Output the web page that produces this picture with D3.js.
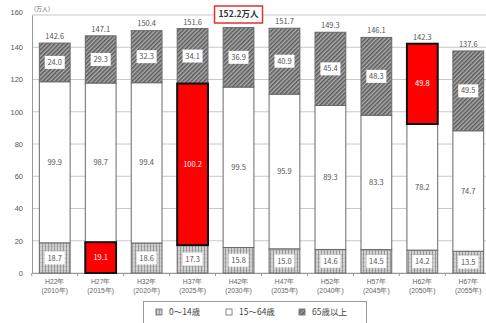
<!DOCTYPE html>
<html><head><meta charset="utf-8">
<script src="https://cdn.jsdelivr.net/npm/d3@7"></script>
<style>
body{margin:0;background:#fff;}
svg{display:block;font-family:"Noto Sans CJK JP","Noto Sans",sans-serif;}
</style></head><body>
<div id="chart"></div>
<script>
const eraLabels = ["H22年","H27年","H32年","H37年","H42年","H47年","H52年","H57年","H62年","H67年"];
const yearLabels = ["(2010年)","(2015年)","(2020年)","(2025年)","(2030年)","(2035年)","(2040年)","(2045年)","(2050年)","(2055年)"];
const young = [18.7, 19.1, 18.6, 17.3, 15.8, 15.0, 14.6, 14.5, 14.2, 13.5];
const working = [99.9, 98.7, 99.4, 100.2, 99.5, 95.9, 89.3, 83.3, 78.2, 74.7];
const elder = [24.0, 29.3, 32.3, 34.1, 36.9, 40.9, 45.4, 48.3, 49.8, 49.5];
const totals = [142.6, 147.1, 150.4, 151.6, 152.2, 151.7, 149.3, 146.1, 142.3, 137.6];
const seriesNames = ["0～14歳","15～64歳","65歳以上"];
const highlights = [[1,0],[3,1],[8,2]]; // [bar index, series index]
const peakLabel = "152.2万人";
const peakIndex = 4;
const yTicks = [0,20,40,60,80,100,120,140,160];
const unitLabel = "(万人)";

const W = 486, H = 323;
const svg = d3.select("#chart").append("svg").attr("width", W).attr("height", H);
const defs = svg.append("defs");

// patterns
const pElder = defs.append("pattern").attr("id","pElder").attr("patternUnits","userSpaceOnUse")
  .attr("width",3).attr("height",3).attr("patternTransform","rotate(45)");
pElder.append("rect").attr("width",3).attr("height",3).attr("fill","#ababab");
pElder.append("rect").attr("width",1.5).attr("height",3).attr("fill","#5a5a5a");

const pYoung = defs.append("pattern").attr("id","pYoung").attr("patternUnits","userSpaceOnUse")
  .attr("width",3).attr("height",4);
pYoung.append("rect").attr("width",3).attr("height",4).attr("fill","#d2d2d2");
pYoung.append("rect").attr("width",1).attr("height",4).attr("fill","#9a9a9a");
pYoung.append("rect").attr("x",1).attr("y",2).attr("width",2).attr("height",1).attr("fill","#bcbcbc");

const fills = ["url(#pYoung)", "#ffffff", "url(#pElder)"];

const x = d3.scaleBand().domain(d3.range(eraLabels.length)).range([32, 491]).paddingInner(0.33).paddingOuter(0.16);
const y = d3.scaleLinear().domain([0,160]).range([273, 15]);

// gridlines
svg.append("g").selectAll("line").data(yTicks).join("line")
  .attr("x1",32).attr("x2",W).attr("y1",d=>y(d)).attr("y2",d=>y(d))
  .attr("stroke","#c8c8c8").attr("stroke-width",1);

// y axis
const yAxis = d3.axisLeft(y).tickValues(yTicks).tickSize(0).tickPadding(9);
const gy = svg.append("g").attr("transform","translate(32,0)").call(yAxis);
gy.select(".domain").attr("stroke","#999");
gy.selectAll("text").attr("fill","#555").attr("font-size",7.5);
gy.selectAll(".tick").filter(d=>d===160).select("text").attr("dy","-0.1em");

svg.append("text").attr("x",34).attr("y",11).attr("font-size",6).attr("fill","#666").text(unitLabel);

// x axis
const xAxis = d3.axisBottom(x).tickFormat(i=>eraLabels[i]).tickSize(0).tickPadding(6);
const gx = svg.append("g").attr("transform","translate(0,273)").call(xAxis);
gx.select(".domain").attr("stroke","#999");
gx.selectAll(".tick text").attr("fill","#666").attr("font-size",6.8)
  .each(function(i){
    const t = d3.select(this);
    t.text(null);
    t.append("tspan").attr("x",0).attr("dy","0.71em").text(eraLabels[i]);
    t.append("tspan").attr("x",0).attr("dy","1.35em").text(yearLabels[i]);
  });
// small ticks between bands
svg.append("g").selectAll("line").data(d3.range(eraLabels.length+1)).join("line")
  .attr("x1",i=>x(0) - x.step()*x.paddingInner()/2 + i*x.step())
  .attr("x2",i=>x(0) - x.step()*x.paddingInner()/2 + i*x.step())
  .attr("y1",273).attr("y2",276).attr("stroke","#999");

// stack
const rows = eraLabels.map((e,i)=>({i, a:young[i], b:working[i], c:elder[i]}));
const stack = d3.stack().keys(["a","b","c"])(rows);
const isHi = (i,s)=>highlights.some(h=>h[0]===i && h[1]===s);

const gBars = svg.append("g");
stack.forEach((layer,s)=>{
  gBars.selectAll(null).data(layer).join("rect")
    .attr("x",(d,k)=>x(k)).attr("width",x.bandwidth())
    .attr("y",d=>y(d[1])).attr("height",d=>y(d[0])-y(d[1]))
    .attr("fill",(d,k)=>isHi(k,s)?"#ff0000":fills[s])
    .attr("stroke","#6a6a6a").attr("stroke-width",1);
});
// highlight borders on top
highlights.forEach(([i,s])=>{
  const d = stack[s][i];
  gBars.append("rect").attr("x",x(i)).attr("width",x.bandwidth())
    .attr("y",y(d[1])).attr("height",y(d[0])-y(d[1]))
    .attr("fill","none").attr("stroke","#111").attr("stroke-width",2);
});

// segment labels
const gLab = svg.append("g").attr("font-size",7.5).attr("text-anchor","middle");
stack.forEach((layer,s)=>{
  layer.forEach((d,k)=>{
    const val = [young,working,elder][s][k];
    const cx = x(k)+x.bandwidth()/2, cy = (y(d[0])+y(d[1]))/2;
    const hi = isHi(k,s);
    if(s!==1 && !hi){
      gLab.append("rect").attr("x",cx-10).attr("y",cy-6.5).attr("width",20).attr("height",13)
        .attr("fill","#fff");
    }
    gLab.append("text").attr("x",cx).attr("y",cy).attr("dy","0.35em")
      .attr("fill",hi?"#fff":"#555").text(val.toFixed(1));
  });
});

// totals
const gTot = svg.append("g").attr("font-size",7.5).attr("text-anchor","middle").attr("fill","#555");
totals.forEach((t,i)=>{
  if(i===peakIndex) return;
  gTot.append("text").attr("x",x(i)+x.bandwidth()/2).attr("y",y(t)-4).text(t.toFixed(1));
});
// peak box
const pcx = x(peakIndex)+x.bandwidth()/2;
svg.append("rect").attr("x",pcx-24).attr("y",6).attr("width",48).attr("height",17)
  .attr("fill","#fff").attr("stroke","#e03030").attr("stroke-width",1.5);
svg.append("text").attr("x",pcx).attr("y",14.5).attr("dy","0.35em").attr("text-anchor","middle")
  .attr("font-size",8.5).attr("font-weight","bold").attr("fill","#333").text(peakLabel);

// legend
const lg = svg.append("g");
lg.append("rect").attr("x",143.5).attr("y",301.5).attr("width",223).attr("height",22)
  .attr("fill","#fff").attr("stroke","#999");
const lx = [156, 226, 299];
seriesNames.forEach((n,s)=>{
  lg.append("rect").attr("x",lx[s]).attr("y",309).attr("width",6).attr("height",6)
    .attr("fill",fills[s]).attr("stroke","#666").attr("stroke-width",0.8);
  lg.append("text").attr("x",lx[s]+13).attr("y",312).attr("dy","0.35em")
    .attr("font-size",8.5).attr("fill","#444").text(n);
});
</script>
</body></html>
